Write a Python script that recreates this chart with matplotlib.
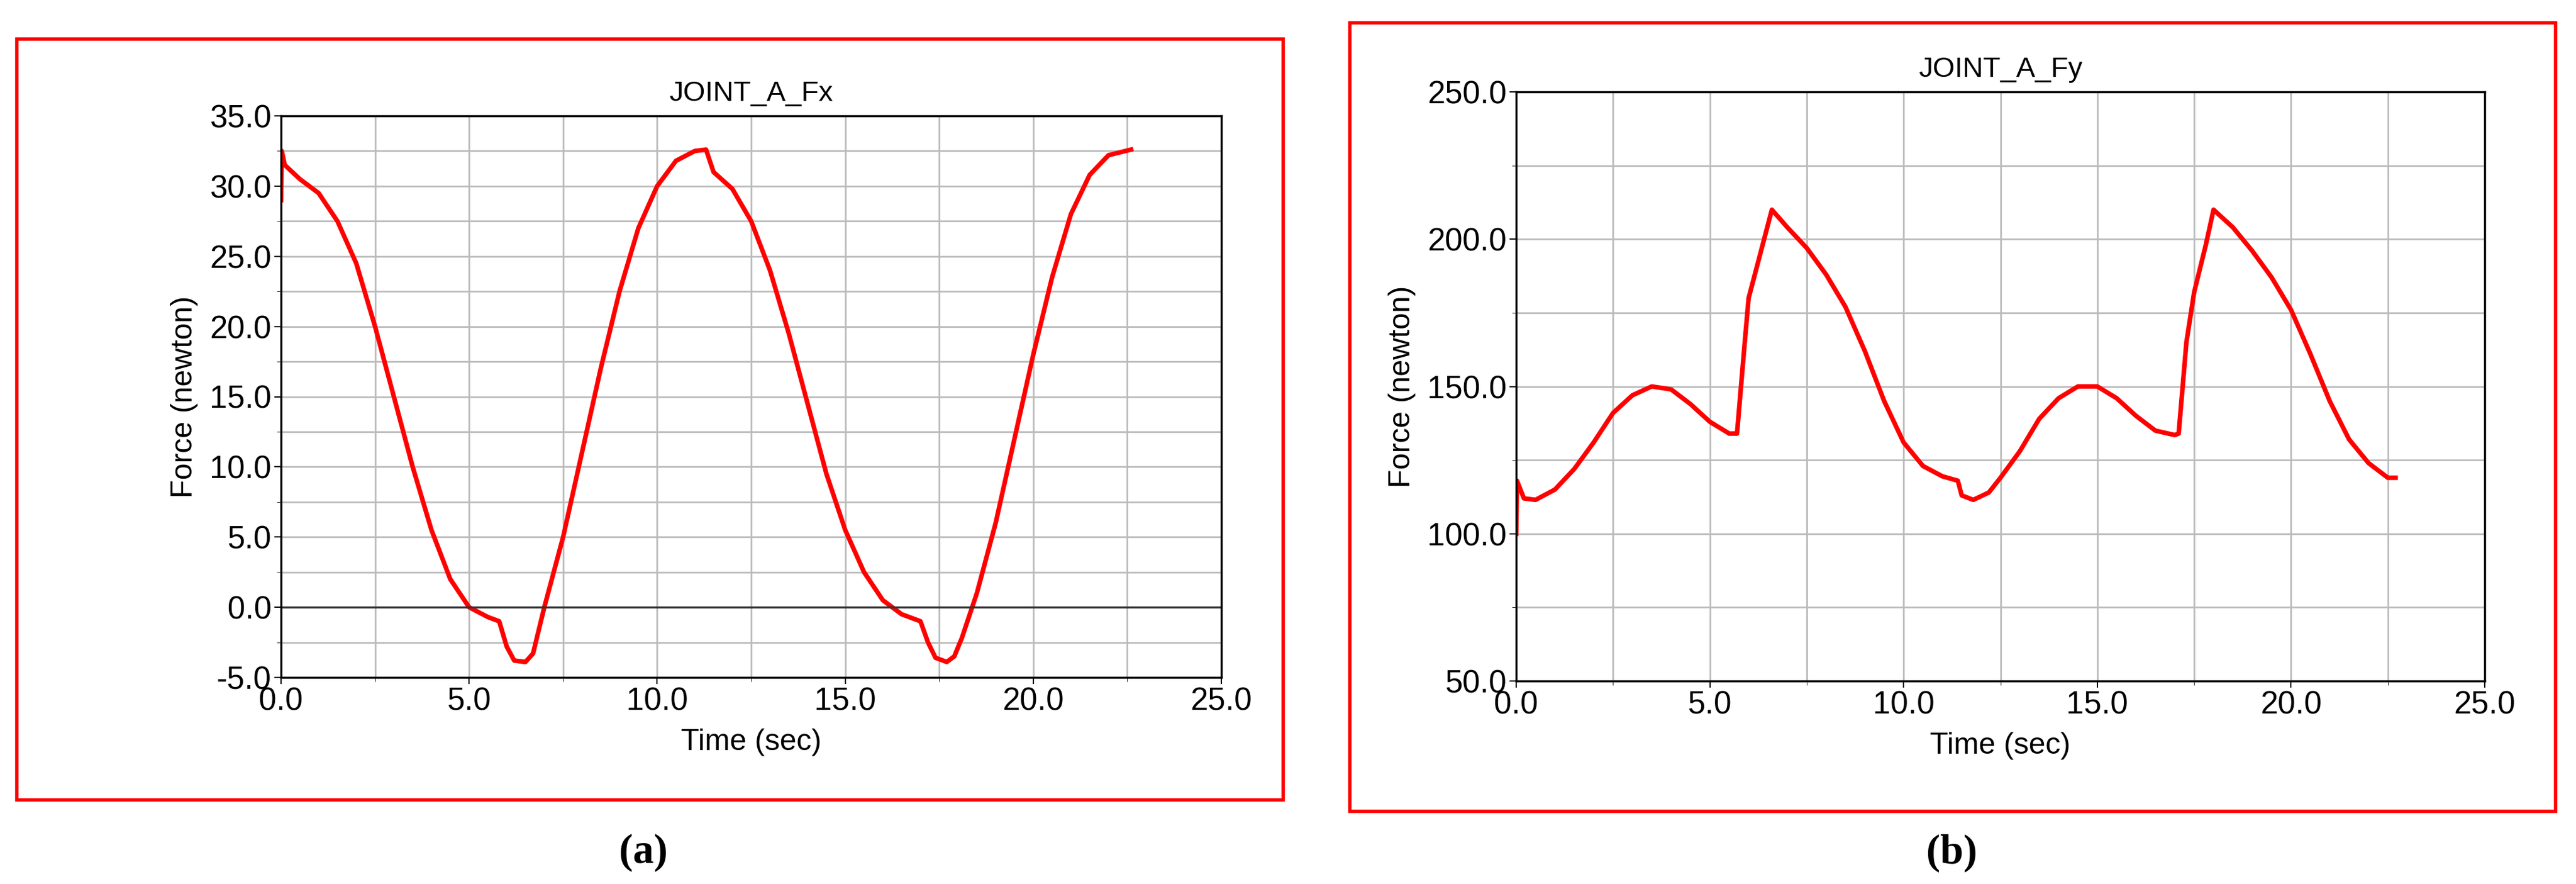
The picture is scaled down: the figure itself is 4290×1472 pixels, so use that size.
import matplotlib.pyplot as plt
from matplotlib.patches import Rectangle
from matplotlib.ticker import MultipleLocator, FormatStrFormatter

plt.rcParams['font.family'] = ['Liberation Sans', 'DejaVu Sans']

# JOINT_A_Fx
t_fx = [0, 0.02, 0.1, 0.5, 1, 1.5, 2, 2.5, 3, 3.5, 4, 4.5, 5, 5.5, 5.8, 6.0, 6.2, 6.5, 6.7, 7,
        7.5, 8, 8.5, 9, 9.5, 10, 10.5, 11, 11.3, 11.5, 12, 12.5, 13, 13.5, 14, 14.5, 15,
        15.5, 16, 16.5, 17, 17.2, 17.4, 17.7, 17.9, 18.1, 18.5, 19, 19.5, 20, 20.5, 21, 21.5, 22, 22.6]
fx = [29, 32.5, 31.5, 30.5, 29.5, 27.5, 24.5, 20, 15, 10, 5.5, 2, 0, -0.7, -1, -2.8, -3.8, -3.9, -3.3, 0,
      5, 11, 17, 22.5, 27, 30, 31.8, 32.5, 32.6, 31, 29.8, 27.5, 24, 19.5, 14.5, 9.5, 5.5,
      2.5, 0.5, -0.5, -1, -2.5, -3.6, -3.9, -3.5, -2.2, 1, 6, 12, 18, 23.5, 28, 30.8, 32.2, 32.6]

# JOINT_A_Fy
t_fy = [0, 0.02, 0.2, 0.5, 1, 1.5, 2, 2.5, 3, 3.5, 4, 4.5, 5, 5.5, 5.7, 5.9, 6.0, 6.3, 6.6,
        7, 7.5, 8, 8.5, 9, 9.5, 10, 10.5, 11, 11.4, 11.5, 11.8, 12.2, 12.5, 13, 13.5, 14,
        14.5, 15, 15.5, 16, 16.5, 17, 17.1, 17.3, 17.5, 17.8, 18, 18.5, 19, 19.5, 20, 20.5,
        21, 21.5, 22, 22.5, 22.7]
fy = [100, 118, 112, 111.5, 115, 122, 131, 141, 147, 150, 149, 144, 138, 134, 134, 165, 180, 195, 210,
      204, 197, 188, 177, 162, 145, 131, 123, 119.5, 118, 113, 111.5, 114, 119, 128, 139, 146,
      150, 150, 146, 140, 135, 133.5, 134, 165, 182, 198, 210, 204, 196, 187, 176, 161,
      145, 132, 124, 119, 119]

W, H = 4290, 1472
fig = plt.figure(figsize=(W / 100, H / 100), dpi=100)

def frac(x0, y0, x1, y1):
    return [x0 / W, 1 - y1 / H, (x1 - x0) / W, (y1 - y0) / H]

def panel(ax_box, frame_box, t, f, title, ylim, ymaj, ymin, zero_line):
    fig.add_artist(Rectangle((frame_box[0], frame_box[1]), frame_box[2], frame_box[3],
                             transform=fig.transFigure, fill=False, edgecolor='red', lw=4))
    ax = fig.add_axes(ax_box)
    ax.plot(t, f, color='red', lw=5.5)
    ax.set_xlim(0, 25)
    ax.set_ylim(*ylim)
    ax.xaxis.set_major_locator(MultipleLocator(5))
    ax.xaxis.set_minor_locator(MultipleLocator(2.5))
    ax.yaxis.set_major_locator(MultipleLocator(ymaj))
    ax.yaxis.set_minor_locator(MultipleLocator(ymin))
    ax.xaxis.set_major_formatter(FormatStrFormatter('%.1f'))
    ax.yaxis.set_major_formatter(FormatStrFormatter('%.1f'))
    ax.grid(which='both', color='#bbbbbb', lw=2)
    if zero_line:
        ax.axhline(0, color='#333333', lw=2.5)
    ax.tick_params(labelsize=38, length=8, width=1.5)
    ax.tick_params(which='minor', length=5)
    ax.set_title(title, fontsize=34, pad=18)
    ax.set_xlabel('Time (sec)', fontsize=36, labelpad=14)
    ax.set_ylabel('Force (newton)', fontsize=36, labelpad=14)
    for s in ax.spines.values():
        s.set_linewidth(2.5)
    return ax

panel(frac(468, 193, 2034, 1128), frac(28, 65, 2137, 1332), t_fx, fx,
      'JOINT_A_Fx', (-5, 35), 5, 2.5, True)
panel(frac(2525, 153, 4138, 1134), frac(2248, 38, 4256, 1351), t_fy, fy,
      'JOINT_A_Fy', (50, 250), 50, 25, False)

fig.text(1071 / W, 1 - 1420 / H, '(a)', fontsize=50, family='Liberation Serif',
         fontweight='bold', ha='center', va='center')
fig.text(3250 / W, 1 - 1420 / H, '(b)', fontsize=50, family='Liberation Serif',
         fontweight='bold', ha='center', va='center')

fig.savefig('out.png', dpi=100)
